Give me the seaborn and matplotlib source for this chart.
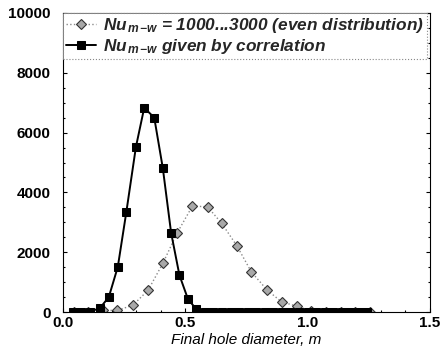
import matplotlib
matplotlib.use("Agg")
import matplotlib.pyplot as plt
from matplotlib.ticker import MultipleLocator
import seaborn as sns
import pandas as pd

# Data
corr_x = [0.040, 0.075, 0.110, 0.150, 0.187, 0.224, 0.259, 0.298, 0.332, 0.373,
          0.408, 0.442, 0.476, 0.511, 0.545, 0.580, 0.615, 0.650, 0.685, 0.720,
          0.755, 0.790, 0.825, 0.860, 0.895, 0.930, 0.965, 1.000, 1.035, 1.070,
          1.105, 1.140, 1.175, 1.210, 1.245]
corr_y = [0, 0, 20, 130, 500, 1515, 3355, 5518, 6830, 6500,
          4816, 2652, 1237, 435, 100, 0, 0, 0, 0, 0,
          0, 0, 0, 0, 0, 0, 0, 0, 0, 0,
          0, 0, 0, 0, 0]

even_x = [0.044, 0.104, 0.164, 0.222, 0.286, 0.348, 0.408, 0.467, 0.529, 0.591,
          0.649, 0.711, 0.770, 0.835, 0.894, 0.956, 1.016, 1.076, 1.136, 1.196, 1.256]
even_y = [0, 0, 60, 60, 234, 736, 1629, 2652, 3545, 3522,
          2967, 2217, 1348, 736, 344, 200, 40, 0, 0, 0, 0]

label_even = r"$\mathbf{Nu}_{\,m\!-\!w}$ = 1000...3000 (even distribution)"
label_corr = r"$\mathbf{Nu}_{\,m\!-\!w}$ given by correlation"

sns.set_style("ticks")
plt.rcParams['font.family'] = ['Liberation Sans', 'DejaVu Sans']
plt.rcParams['mathtext.fontset'] = 'custom'
plt.rcParams['mathtext.it'] = 'Liberation Sans:italic:bold'
plt.rcParams['mathtext.rm'] = 'Liberation Sans:italic:bold'
plt.rcParams['mathtext.bf'] = 'Liberation Sans:italic:bold'

fig = plt.figure(figsize=(4.44, 3.58), dpi=100)
ax = fig.add_axes([0.142, 0.128, 0.826, 0.836])

df_even = pd.DataFrame({"x": even_x, "y": even_y})
df_corr = pd.DataFrame({"x": corr_x, "y": corr_y})

sns.lineplot(data=df_even, x="x", y="y", ax=ax, color="#8a8a8a", linestyle=":",
             linewidth=1.0, marker="D", markersize=5.0, markerfacecolor="#a8a8a8",
             markeredgecolor="#333333", markeredgewidth=0.8, label=label_even)
sns.lineplot(data=df_corr, x="x", y="y", ax=ax, color="black", linestyle="-",
             linewidth=1.4, marker="s", markersize=5.2, markerfacecolor="black",
             markeredgecolor="black", label=label_corr)

ax.set_xlim(0.0, 1.5)
ax.set_ylim(0, 10000)
ax.xaxis.set_major_locator(MultipleLocator(0.5))
ax.xaxis.set_minor_locator(MultipleLocator(0.1))
ax.yaxis.set_major_locator(MultipleLocator(2000))
ax.yaxis.set_minor_locator(MultipleLocator(500))
ax.xaxis.set_major_formatter(matplotlib.ticker.FormatStrFormatter('%.1f'))
ax.tick_params(axis='both', which='both', direction='in', top=False, right=True,
               labelsize=11, width=0.8, colors='black')
ax.tick_params(axis='y', which='major', pad=9)
ax.tick_params(axis='x', which='major', pad=3)
ax.tick_params(which='major', length=3)
ax.tick_params(which='minor', length=1.5)
for lab in ax.get_xticklabels() + ax.get_yticklabels():
    lab.set_fontweight('bold')
for s in ax.spines.values():
    s.set_linewidth(0.8)
    s.set_color('black')

ax.set_xlabel("Final hole diameter, m", fontsize=11, fontstyle='italic', labelpad=2,
              color='black')
ax.set_ylabel("")

leg = ax.legend(loc="upper left", bbox_to_anchor=(0.0, 1.0), borderaxespad=0.0,
                frameon=True, fancybox=False, handlelength=1.7, handletextpad=0.4,
                borderpad=0.2, labelspacing=0.1,
                prop={'style': 'italic', 'weight': 'bold', 'size': 12.4})
leg.get_frame().set_edgecolor("#888888")
leg.get_frame().set_linestyle(":")
leg.get_frame().set_linewidth(0.8)
leg.get_frame().set_alpha(1.0)

fig.savefig("out.png", dpi=100)
